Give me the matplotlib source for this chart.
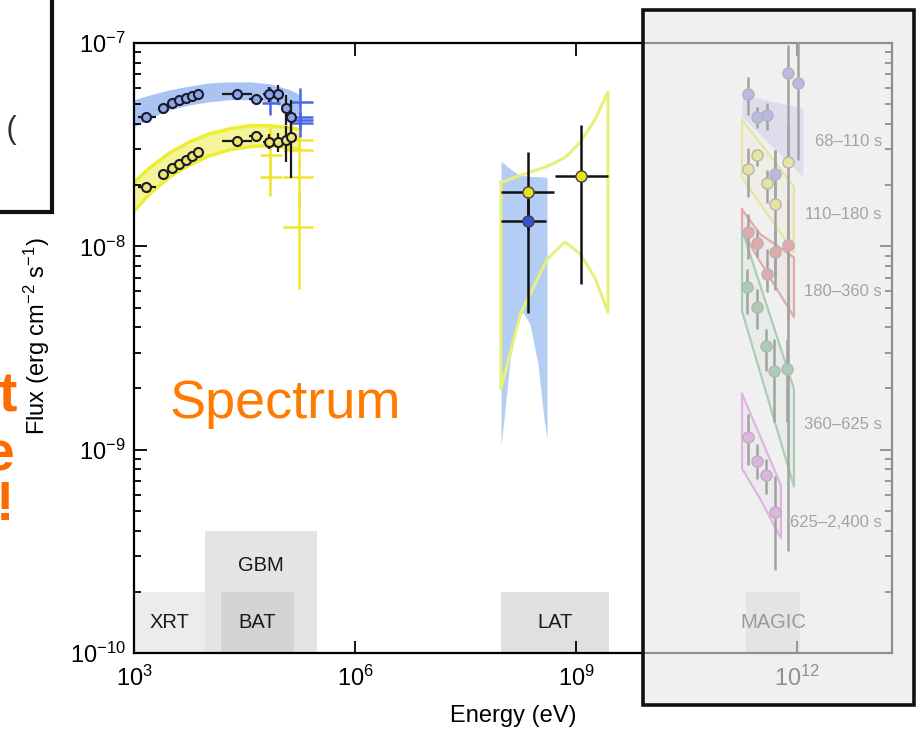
import numpy as np
import matplotlib
matplotlib.use('Agg')
import matplotlib.pyplot as plt
from matplotlib.patches import Rectangle
from matplotlib.ticker import FixedLocator, LogLocator, NullLocator, LogFormatterSciNotation

plt.rcParams['font.family'] = ['Liberation Sans', 'DejaVu Sans']
plt.rcParams['mathtext.default'] = 'regular'

W, H = 920, 732

# instrument energy coverage boxes
inst_names = ['XRT', 'GBM', 'BAT', 'LAT', 'MAGIC']
inst_elo = [1e3, 9.1e3, 1.5e4, 9.5e7, 2.0e11]
inst_ehi = [9.1e3, 3.0e5, 1.5e5, 2.8e9, 1.1e12]
inst_top = [2e-10, 4e-10, 2e-10, 2e-10, 2e-10]
inst_lab_lo = [1e-10, 1.8e-10, 1e-10, 1e-10, 1e-10]
inst_col = ['#ececec', '#e4e4e4', '#d4d4d4', '#e0e0e0', '#e0e0e0']

# XRT + BAT points (two epochs share energies)
xb_E = [1.45e3, 2.47e3, 3.28e3, 4.08e3, 5.08e3, 6.13e3, 7.38e3, 2.50e4, 4.52e4, 6.79e4, 9.0e4, 1.15e5, 1.35e5]
xb_Elo = [1.13e3, 2.18e3, 2.90e3, 3.60e3, 4.48e3, 5.41e3, 6.51e3, 1.56e4, 3.63e4, 5.62e4, 7.94e4, 1.05e5, 1.24e5]
xb_Ehi = [1.99e3, 2.80e3, 3.72e3, 4.62e3, 5.76e3, 6.95e3, 8.36e3, 3.99e4, 5.62e4, 8.18e4, 1.02e5, 1.26e5, 1.47e5]
blue_F = [4.34e-8, 4.80e-8, 5.08e-8, 5.26e-8, 5.37e-8, 5.49e-8, 5.62e-8, 5.62e-8, 5.31e-8, 5.62e-8, 5.62e-8, 4.80e-8, 4.34e-8]
blue_Flo = [4.2e-8, 4.7e-8, 4.98e-8, 5.16e-8, 5.27e-8, 5.39e-8, 5.52e-8, 5.45e-8, 5.1e-8, 5.1e-8, 5.1e-8, 3.96e-8, 3.54e-8]
blue_Fhi = [4.48e-8, 4.9e-8, 5.18e-8, 5.36e-8, 5.47e-8, 5.59e-8, 5.72e-8, 5.8e-8, 5.5e-8, 6.1e-8, 6.2e-8, 5.56e-8, 5.26e-8]
yel_F = [1.95e-8, 2.28e-8, 2.44e-8, 2.55e-8, 2.67e-8, 2.79e-8, 2.92e-8, 3.31e-8, 3.50e-8, 3.27e-8, 3.27e-8, 3.35e-8, 3.46e-8]
yel_Flo = [1.88e-8, 2.2e-8, 2.36e-8, 2.47e-8, 2.59e-8, 2.71e-8, 2.84e-8, 3.2e-8, 3.35e-8, 3.0e-8, 2.9e-8, 2.6e-8, 2.18e-8]
yel_Fhi = [2.02e-8, 2.36e-8, 2.52e-8, 2.63e-8, 2.75e-8, 2.87e-8, 3.0e-8, 3.42e-8, 3.65e-8, 3.55e-8, 3.6e-8, 3.9e-8, 4.7e-8]

# XRT/BAT model bands
band_E = [1.0e3, 1.65e3, 3.08e3, 5.75e3, 1.07e4, 2.01e4, 3.75e4, 7.0e4, 1.31e5, 1.79e5]
blue_up = [5.26e-8, 5.56e-8, 5.89e-8, 6.15e-8, 6.37e-8, 6.44e-8, 6.44e-8, 6.30e-8, 5.89e-8, 5.56e-8]
blue_dn = [3.87e-8, 4.28e-8, 4.70e-8, 4.97e-8, 5.14e-8, 5.26e-8, 5.26e-8, 5.14e-8, 4.70e-8, 4.34e-8]
yel_up = [2.06e-8, 2.44e-8, 2.89e-8, 3.27e-8, 3.58e-8, 3.79e-8, 3.92e-8, 3.92e-8, 3.83e-8, 3.75e-8]
yel_dn = [1.49e-8, 1.82e-8, 2.20e-8, 2.52e-8, 2.79e-8, 2.99e-8, 3.09e-8, 3.13e-8, 3.05e-8, 2.99e-8]

# GBM crosses
gbm_blue_E = [7.0e4, 1.79e5, 1.79e5, 1.79e5, 1.79e5]
gbm_blue_Elo = [5.46e4, 1.31e5, 1.31e5, 1.31e5, 1.31e5]
gbm_blue_Ehi = [9.57e4, 2.69e5, 2.69e5, 2.69e5, 2.69e5]
gbm_blue_F = [5.08e-8, 5.14e-8, 4.34e-8, 4.19e-8, 4.06e-8]
gbm_blue_Flo = [4.44e-8, 4.70e-8, 3.96e-8, 3.83e-8, 3.46e-8]
gbm_blue_Fhi = [6.08e-8, 6.01e-8, 4.70e-8, 4.59e-8, 4.44e-8]
gbm_yel_E = [7.0e4, 7.0e4, 1.73e5, 1.73e5, 1.73e5, 1.73e5]
gbm_yel_Elo = [5.13e4, 5.13e4, 1.05e5, 1.05e5, 1.05e5, 1.05e5]
gbm_yel_Ehi = [1.02e5, 1.02e5, 2.69e5, 2.69e5, 2.69e5, 2.69e5]
gbm_yel_F = [2.82e-8, 2.20e-8, 3.35e-8, 2.99e-8, 2.20e-8, 1.24e-8]
gbm_yel_Flo = [2.2e-8, 1.76e-8, 3.0e-8, 2.5e-8, 1.6e-8, 6.15e-9]
gbm_yel_Fhi = [3.87e-8, 2.6e-8, 3.62e-8, 3.3e-8, 2.6e-8, 1.8e-8]

# LAT points
lat_E = [2.22e8, 2.22e8, 1.16e9]
lat_Elo = [9.55e7, 9.55e7, 5.15e8]
lat_Ehi = [5.0e8, 3.89e8, 2.70e9]
lat_F = [1.86e-8, 1.33e-8, 2.23e-8]
lat_Flo = [1.2e-8, 4.70e-9, 6.52e-9]
lat_Fhi = [2.92e-8, 1.7e-8, 3.96e-8]
lat_col = ['#e8e020', '#3452d8', '#e8e020']

# LAT model bands
lat_blue_E = [9.55e7, 1.05e8, 1.27e8, 1.62e8, 1.90e8, 2.36e8, 3.03e8, 3.66e8, 4.02e8]
lat_blue_up = [2.61e-8, 2.55e-8, 2.41e-8, 2.26e-8, 2.23e-8, 2.21e-8, 2.20e-8, 2.19e-8, 2.18e-8]
lat_blue_dn = [1.05e-9, 1.42e-9, 2.79e-9, 4.38e-9, 4.74e-9, 4.15e-9, 2.64e-9, 1.42e-9, 1.13e-9]
lat_yel_E = [9.55e7, 1.73e8, 4.02e8, 7.05e8, 1.13e9, 1.80e9, 2.70e9]
lat_yel_up = [2.06e-8, 2.23e-8, 2.47e-8, 2.73e-8, 3.24e-8, 4.20e-8, 5.75e-8]
lat_yel_dn = [1.99e-9, 4.6e-9, 8.63e-9, 1.05e-8, 9.2e-9, 7.0e-9, 4.74e-9]

# MAGIC time-resolved spectra
magic_labels = ['68\u2013110 s', '110\u2013180 s', '180\u2013360 s', '360\u2013625 s', '625\u20132,400 s']
magic_label_F = [3.27e-8, 1.44e-8, 6.01e-9, 1.33e-9, 4.38e-10]
magic_col = ['#6f6fe0', '#e6de30', '#e04848', '#4aa064', '#d060d8']
m_E = [[2.15e11, 2.84e11, 3.88e11, 4.98e11, 7.48e11, 1.02e12],
       [2.15e11, 2.84e11, 3.88e11, 4.98e11, 7.48e11],
       [2.15e11, 2.84e11, 3.88e11, 4.98e11, 7.48e11],
       [2.08e11, 2.84e11, 3.76e11, 4.83e11, 7.25e11],
       [2.15e11, 2.84e11, 3.76e11, 4.98e11]]
m_F = [[5.62e-8, 4.34e-8, 4.44e-8, 2.28e-8, 7.13e-8, 6.37e-8],
       [2.41e-8, 2.82e-8, 2.06e-8, 1.61e-8, 2.61e-8],
       [1.17e-8, 1.04e-8, 7.30e-9, 9.35e-9, 1.01e-8],
       [6.30e-9, 5.02e-9, 3.24e-9, 2.44e-9, 2.49e-9],
       [1.16e-9, 8.84e-10, 7.54e-10, 4.91e-10]]
m_Flo = [[4.44e-8, 3.83e-8, 3.75e-8, 1.70e-8, 2.67e-8, 2.67e-8],
         [1.74e-8, 2.47e-8, 1.64e-8, 7.13e-9, 4.38e-9],
         [8.63e-9, 8.83e-9, 5.96e-9, 6.1e-9, 3.16e-10],
         [4.65e-9, 3.92e-9, 2.44e-9, 1.37e-9, 1.37e-9],
         [8.36e-10, 7.21e-10, 6.08e-10, 2.55e-10]]
m_Fhi = [[6.81e-8, 4.85e-8, 5.08e-8, 2.99e-8, 9.78e-8, 1.2e-7],
         [3.05e-8, 2.99e-8, 2.38e-8, 2.99e-8, 3.96e-8],
         [1.44e-8, 1.21e-8, 9.67e-9, 1.21e-8, 1.70e-8],
         [7.71e-9, 6.15e-9, 3.92e-9, 3.50e-9, 3.50e-9],
         [1.50e-9, 1.07e-9, 9.04e-10, 7.46e-10]]
# MAGIC model butterflies
mb_E = [[1.78e11, 1.19e12], [1.78e11, 9.02e11], [1.78e11, 3.12e11, 9.02e11],
        [1.78e11, 9.02e11], [1.78e11, 3.12e11, 6.01e11]]
mb_up = [[5.56e-8, 4.80e-8], [4.20e-8, 1.97e-8], [1.52e-8, 1.15e-8, 8.83e-9],
         [1.21e-8, 1.99e-9], [1.88e-9, 1.17e-9, 6.67e-10]]
mb_dn = [[4.34e-8, 2.20e-8], [2.18e-8, 9.35e-9], [1.19e-8, 8.43e-9, 4.49e-9],
         [4.80e-9, 6.59e-10], [8.07e-10, 5.75e-10, 3.66e-10]]


def px(x, y):
    return x / W, 1 - y / H


def errs(v, lo, hi):
    v = np.array(v)
    return [v - np.array(lo), np.array(hi) - v]


fig = plt.figure(figsize=(W / 100, H / 100), dpi=100)
ax = fig.add_axes([134 / W, 79 / H, 758 / W, 610 / H])
ax.set_xscale('log')
ax.set_yscale('log')
ax.set_xlim(1e3, 1.93e13)
ax.set_ylim(1e-10, 1e-7)

# instrument boxes
for i, name in enumerate(inst_names):
    ax.add_patch(Rectangle((inst_elo[i], 1e-10), inst_ehi[i] - inst_elo[i], inst_top[i] - 1e-10,
                           facecolor=inst_col[i], edgecolor='none', zorder=0))
    ax.text(np.sqrt(inst_elo[i] * inst_ehi[i]), np.sqrt(inst_lab_lo[i] * inst_top[i]), name,
            ha='center', va='center', fontsize=14.5, color='#1a1a1a', zorder=1)

# XRT/BAT model bands
ax.fill_between(band_E, blue_dn, blue_up, color='#a9c4f2', lw=0, zorder=1)
ax.fill_between(band_E, yel_dn, yel_up, color='#f4f49a', lw=0, zorder=1)
ax.plot(band_E, yel_up, color='#eeee30', lw=2.5, zorder=1)
ax.plot(band_E, yel_dn, color='#eeee30', lw=2.5, zorder=1)

# GBM crosses
ax.errorbar(gbm_yel_E, gbm_yel_F, xerr=errs(gbm_yel_E, gbm_yel_Elo, gbm_yel_Ehi),
            yerr=errs(gbm_yel_F, gbm_yel_Flo, gbm_yel_Fhi), fmt='none', ecolor='#f0e428',
            elinewidth=1.8, zorder=2)
ax.errorbar(gbm_blue_E, gbm_blue_F, xerr=errs(gbm_blue_E, gbm_blue_Elo, gbm_blue_Ehi),
            yerr=errs(gbm_blue_F, gbm_blue_Flo, gbm_blue_Fhi), fmt='none', ecolor='#4a66e6',
            elinewidth=1.8, zorder=2)

# XRT/BAT points
for F, lo, hi, fc in [(blue_F, blue_Flo, blue_Fhi, '#8ea6e8'), (yel_F, yel_Flo, yel_Fhi, '#ece66a')]:
    ax.errorbar(xb_E, F, xerr=errs(xb_E, xb_Elo, xb_Ehi), yerr=errs(F, lo, hi), fmt='o',
                ms=6.5, mfc=fc, mec='#1a1a2a', mew=1.5, ecolor='#1a1a1a', elinewidth=1.6,
                capsize=0, zorder=3)

# LAT bands and points
ax.fill_between(lat_blue_E, lat_blue_dn, lat_blue_up, color='#b4cdf4', lw=0, zorder=1)
lat_poly_E = lat_yel_E + lat_yel_E[::-1] + [lat_yel_E[0]]
lat_poly_F = lat_yel_up + lat_yel_dn[::-1] + [lat_yel_up[0]]
ax.plot(lat_poly_E, lat_poly_F, color='#e8f07c', lw=2.2, zorder=1)
for i in range(len(lat_E)):
    ax.errorbar(lat_E[i], lat_F[i],
                xerr=[[lat_E[i] - lat_Elo[i]], [lat_Ehi[i] - lat_E[i]]],
                yerr=[[lat_F[i] - lat_Flo[i]], [lat_Fhi[i] - lat_F[i]]],
                fmt='o', ms=8, mfc=lat_col[i], mec='#404040', mew=1.0,
                ecolor='#111111', elinewidth=1.8, capsize=0, zorder=3)

# MAGIC
for i in range(len(m_E)):
    c = magic_col[i]
    if i == 0:
        ax.fill_between(mb_E[i], mb_dn[i], mb_up[i], color=c, alpha=0.35, lw=0, zorder=1)
    else:
        pe = mb_E[i] + mb_E[i][::-1] + [mb_E[i][0]]
        pf = mb_up[i] + mb_dn[i][::-1] + [mb_up[i][0]]
        ax.fill(pe, pf, color=c, alpha=0.12, lw=0, zorder=1)
        ax.plot(pe, pf, color=c, lw=1.6, zorder=1)
    ax.errorbar(m_E[i], m_F[i], yerr=errs(m_F[i], m_Flo[i], m_Fhi[i]), fmt='o', ms=8,
                mfc=c, mec='#606060', mew=1.0, ecolor='#333333', elinewidth=1.8,
                capsize=0, zorder=3)
    ax.text(1.41e13, magic_label_F[i], magic_labels[i], ha='right', va='center',
            fontsize=12, color='#333333', zorder=4)

# axes styling
for s in ax.spines.values():
    s.set_linewidth(1.6)
ax.xaxis.set_major_locator(FixedLocator([1e3, 1e6, 1e9, 1e12]))
ax.xaxis.set_minor_locator(NullLocator())
ax.xaxis.set_major_formatter(LogFormatterSciNotation())
ax.yaxis.set_major_locator(LogLocator(base=10))
ax.yaxis.set_minor_locator(LogLocator(base=10, subs=np.arange(2, 10)))
ax.tick_params(which='both', direction='in', top=True, right=True, width=1.3)
ax.tick_params(which='major', length=9, labelsize=17)
ax.tick_params(which='minor', length=5)
ax.tick_params(axis='x', pad=9)
ax.tick_params(axis='y', pad=6)
ax.set_xlabel('Energy (eV)', fontsize=17)
ax.set_ylabel('Flux (erg cm$^{-2}$ s$^{-1}$)', fontsize=17)
ax.xaxis.set_label_coords(0.5, -0.085)
ax.yaxis.set_label_coords(-0.108, 0.52)

# slide decorations
fig.text(*px(285, 418), 'Spectrum', ha='center', va='baseline', fontsize=39, color='#ff7a00')
fig.text(*px(17, 412), 't', ha='right', va='baseline', fontsize=40, fontweight='bold', color='#ff6a00')
fig.text(*px(15, 470), 'e', ha='right', va='baseline', fontsize=40, fontweight='bold', color='#ff6a00')
fig.text(*px(14, 520), '!', ha='right', va='baseline', fontsize=40, fontweight='bold', color='#ff6a00')
fig.text(*px(17, 138), 'n (', ha='right', va='baseline', fontsize=22, color='#333333')

x0, y0 = px(-10, 212)
fig.add_artist(Rectangle((x0, y0), (52 + 10) / W, (212 + 10) / H, transform=fig.transFigure,
                         facecolor='none', edgecolor='#111111', lw=3, zorder=5))
x0, y0 = px(643, 705)
fig.add_artist(Rectangle((x0, y0), (914 - 643) / W, (705 - 10) / H, transform=fig.transFigure,
                         facecolor=(0.91, 0.91, 0.91, 0.62), edgecolor='#111111', lw=2.6, zorder=5))

fig.savefig('out.png', dpi=100)
